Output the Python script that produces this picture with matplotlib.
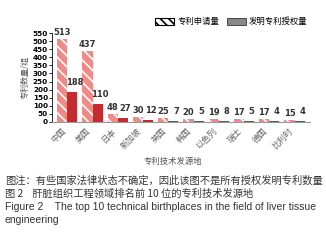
import numpy as np
import matplotlib
matplotlib.use('Agg')
import matplotlib.pyplot as plt
from matplotlib.patches import Patch

plt.rcParams['font.family'] = ['Noto Sans CJK SC', 'DejaVu Sans']
plt.rcParams['hatch.linewidth'] = 1.2

# Dados
paises = ['中国', '美国', '日本', '新加坡', '英国', '韩国', '以色列', '瑞士', '德国', '比利时']
pedidos = [513, 437, 48, 30, 25, 20, 19, 17, 17, 15]
concessoes = [188, 110, 27, 12, 7, 5, 8, 5, 4, 4]
yticks = list(range(0, 551, 50))

fig = plt.figure(figsize=(3.26, 2.43), dpi=100)
ax = fig.add_axes([0.16, 0.498, 0.79, 0.366])

x = np.arange(len(paises))
w = 0.4
ax.bar(x - w/2, pedidos, w, color='#f08a86', edgecolor='white', hatch='\\\\\\', linewidth=0)
ax.bar(x + w/2, concessoes, w, color='#c42a2e', linewidth=0)

# rotulos dos valores
for i in range(len(paises)):
    ax.text(x[i] - w/2, pedidos[i] + 12, str(pedidos[i]), ha='center', va='bottom',
            fontsize=6, fontweight='bold', color='#333333', family='DejaVu Sans', clip_on=False)
    ax.text(x[i] + w/2 + 0.1, concessoes[i] + 30, str(concessoes[i]), ha='center', va='bottom',
            fontsize=6, fontweight='bold', color='#333333', family='DejaVu Sans', clip_on=False)

ax.set_xlim(-0.6, len(paises) - 0.4)
ax.set_ylim(0, 550)
ax.set_yticks(yticks)
ax.set_yticklabels([str(v) for v in yticks], fontsize=5.2, fontweight='bold', family='DejaVu Sans')
ax.tick_params(axis='y', length=2, width=0.6, pad=1)
ax.set_xticks(x)
ax.set_xticklabels(paises, rotation=45, ha='right', fontsize=6, color='#666666')
ax.tick_params(axis='x', length=0, pad=3)
for s in ['top', 'right']:
    ax.spines[s].set_visible(False)
ax.spines['left'].set_linewidth(0.6)
ax.spines['bottom'].set_color('#999999')
ax.set_ylabel('专利数量/组', fontsize=5.8, color='#555555', labelpad=3)
fig.text(0.53, 0.325, '专利技术发源地', ha='center', fontsize=6, color='#555555')

# legenda
handles = [Patch(facecolor='white', edgecolor='black', hatch='\\\\\\\\', linewidth=0.8),
           Patch(facecolor='#888888', edgecolor='#333333', linewidth=0.6)]
fig.legend(handles, ['专利申请量', '发明专利授权量'], loc='center', bbox_to_anchor=(0.71, 0.91),
           ncol=2, frameon=False, fontsize=6, handlelength=2.2, handleheight=0.9,
           columnspacing=1.0, handletextpad=0.4)

# legenda da figura
cap = '#333333'
fig.text(0.015, 0.257, '图注：有些国家法律状态不确定，因此该图不是所有授权发明专利数量',
         fontsize=7.4, color=cap, va='center')
fig.text(0.015, 0.203, '图 2    肝脏组织工程领域排名前 10 位的专利技术发源地',
         fontsize=7.4, color=cap, va='center')
fig.text(0.015, 0.148, 'Figure 2    The top 10 technical birthplaces in the field of liver tissue',
         fontsize=7.45, color=cap, va='center', family='Liberation Sans')
fig.text(0.015, 0.093, 'engineering',
         fontsize=7.45, color=cap, va='center', family='Liberation Sans')

fig.savefig('out.png', dpi=100)
